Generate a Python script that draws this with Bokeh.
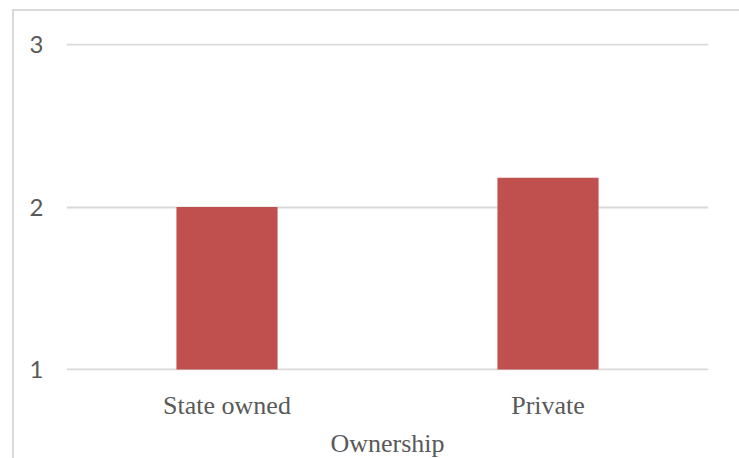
from bokeh.plotting import figure
from bokeh.models import Range1d, ColumnDataSource, FixedTicker
from bokeh.embed import file_html
from bokeh.resources import INLINE

categories = ["State owned", "Private"]
values = [2.0, 2.18]
y_ticks = [1, 2, 3]
x_title = "Ownership"

src = ColumnDataSource(dict(cat=categories, val=values, base=[1] * len(values)))

p = figure(x_range=categories, y_range=Range1d(0.994, 3.006), width=727, height=449,
           output_backend="svg", toolbar_location=None,
           min_border_left=52, min_border_right=33, min_border_top=32,
           min_border_bottom=82)
p.margin = (9, 0, 0, 12)
p.styles = {"border-left": "2px solid #d9d9d9", "border-top": "2px solid #d9d9d9"}
p.outline_line_color = None

p.vbar(x="cat", top="val", bottom="base", width=0.315, source=src,
       fill_color="#C0504D", line_color=None)

p.yaxis.ticker = FixedTicker(ticks=y_ticks)
p.yaxis.axis_line_color = None
p.yaxis.major_tick_line_color = None
p.yaxis.minor_tick_line_color = None
p.yaxis.major_label_text_font = "Lato"
p.yaxis.major_label_text_font_size = "24px"
p.yaxis.major_label_text_color = "#595959"
p.yaxis.major_label_standoff = 17

p.xaxis.axis_line_color = None
p.xaxis.major_tick_line_color = None
p.xaxis.major_label_text_font = "Liberation Serif"
p.xaxis.major_label_text_font_size = "26px"
p.xaxis.major_label_text_color = "#595959"
p.xaxis.major_label_standoff = 14
p.xaxis.axis_label = x_title
p.xaxis.axis_label_text_font = "Liberation Serif"
p.xaxis.axis_label_text_font_size = "26px"
p.xaxis.axis_label_text_font_style = "normal"
p.xaxis.axis_label_text_color = "#595959"
p.xaxis.axis_label_standoff = 6

p.xgrid.grid_line_color = None
p.ygrid.grid_line_color = "#d9d9d9"
p.ygrid.grid_line_width = 2

open("out.html", "w").write(file_html(p, INLINE))
